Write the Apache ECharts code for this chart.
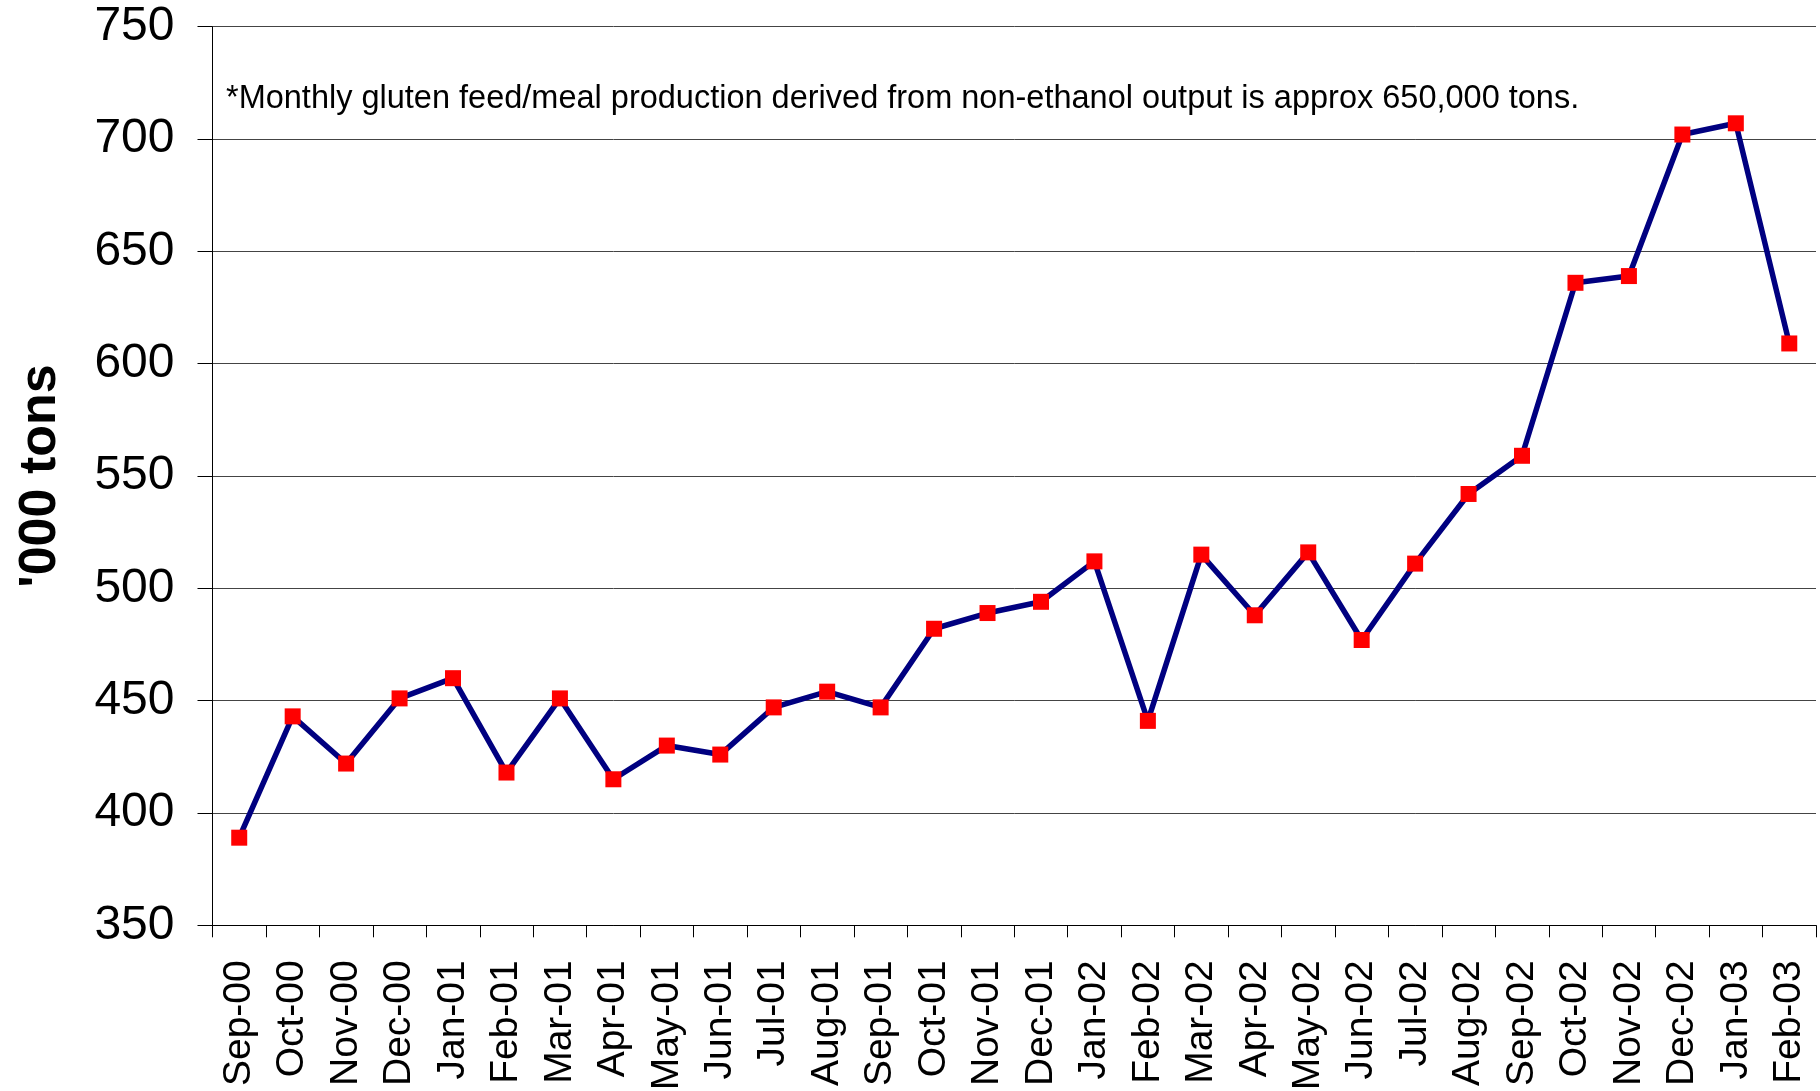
<!DOCTYPE html>
<html>
<head>
<meta charset="utf-8">
<script src="https://cdn.jsdelivr.net/npm/echarts@6/dist/echarts.min.js"></script>
<style>
html,body{margin:0;padding:0;background:#fff;}
#chart{width:1820px;height:1091px;}
</style>
</head>
<body>
<div id="chart"></div>
<script>
var categories = ['Sep-00','Oct-00','Nov-00','Dec-00','Jan-01','Feb-01','Mar-01','Apr-01','May-01','Jun-01','Jul-01','Aug-01','Sep-01','Oct-01','Nov-01','Dec-01','Jan-02','Feb-02','Mar-02','Apr-02','May-02','Jun-02','Jul-02','Aug-02','Sep-02','Oct-02','Nov-02','Dec-02','Jan-03','Feb-03'];
var production = [389, 443, 422, 451, 460, 418, 451, 415, 430, 426, 447, 454, 447, 482, 489, 494, 512, 441, 515, 488, 516, 477, 511, 542, 559, 636, 639, 702, 707, 609];
var yMin = 350, yMax = 750, yStep = 50;
var yTitle = "'000 tons";
var note = '*Monthly gluten feed/meal production derived from non-ethanol output is approx 650,000 tons.';

var FONT = '"Liberation Sans", Arial, sans-serif';
var chart = echarts.init(document.getElementById('chart'), null, {renderer: 'canvas'});
chart.setOption({
  backgroundColor: '#ffffff',
  animation: false,
  title: {
    text: note,
    left: 226,
    top: 83,
    padding: 0,
    textStyle: {fontFamily: FONT, fontSize: 32.5, fontWeight: 'normal', color: '#000'}
  },
  grid: {left: 212.5, right: 4, top: 26.7, bottom: 165.7, containLabel: false, outerBoundsMode: 'none'},
  xAxis: {
    type: 'category',
    data: categories,
    boundaryGap: true,
    axisLine: {show: true, lineStyle: {color: '#000', width: 1}},
    axisTick: {show: true, interval: 0, length: 12, lineStyle: {color: '#000', width: 1}},
    axisLabel: {interval: 0, rotate: 90, margin: 35, fontFamily: FONT, fontSize: 39, color: '#000'},
    splitLine: {show: false}
  },
  yAxis: {
    type: 'value',
    min: yMin, max: yMax, interval: yStep,
    name: yTitle,
    nameLocation: 'middle',
    nameRotate: 90,
    nameGap: 146,
    nameTextStyle: {fontFamily: FONT, fontSize: 52, fontWeight: 'bold', color: '#000'},
    axisLine: {show: true, lineStyle: {color: '#000', width: 1}},
    axisTick: {show: true, length: 15, lineStyle: {color: '#000', width: 1}},
    axisLabel: {margin: 38, fontFamily: FONT, fontSize: 48, color: '#000'},
    splitLine: {show: true, lineStyle: {color: '#444', width: 1}}
  },
  series: [{
    type: 'line',
    data: production,
    symbol: 'rect',
    symbolSize: 16,
    lineStyle: {color: '#000080', width: 5.5},
    itemStyle: {color: '#ff0000'},
    z: 3
  }]
});
</script>
</body>
</html>
